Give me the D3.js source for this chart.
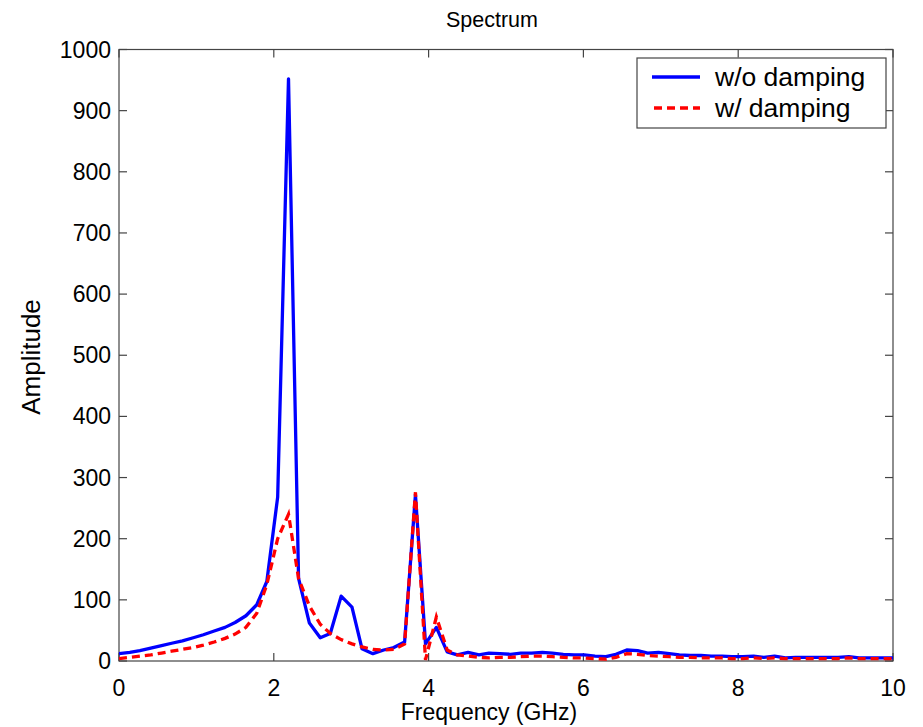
<!DOCTYPE html>
<html>
<head>
<meta charset="utf-8">
<script src="https://cdn.jsdelivr.net/npm/d3@7"></script>
<style>
  body { margin: 0; background: #fff; }
  text { font-family: "Liberation Sans", Arial, sans-serif; fill: #000; }
</style>
</head>
<body>
<div id="chart"></div>
<script>
// 频率 (GHz)
const freq = [0, 0.14, 0.27, 0.41, 0.55, 0.68, 0.82, 0.96, 1.09, 1.23, 1.37, 1.50, 1.64, 1.78, 1.91,
  2.05, 2.19, 2.32, 2.46, 2.60, 2.73, 2.87, 3.01, 3.14, 3.28, 3.42, 3.55, 3.69, 3.83, 3.96,
  4.10, 4.24, 4.37, 4.51, 4.65, 4.78, 4.92, 5.06, 5.19, 5.33, 5.47, 5.60, 5.74, 5.88, 6.01,
  6.15, 6.29, 6.42, 6.56, 6.70, 6.83, 6.97, 7.11, 7.24, 7.38, 7.52, 7.65, 7.79, 7.92, 8.06,
  8.20, 8.33, 8.47, 8.61, 8.74, 8.88, 9.02, 9.15, 9.29, 9.43, 9.56, 9.70, 9.84, 10.0];

// w/o damping
const noDamping = [12, 14, 17, 21, 25, 29, 33, 38, 43, 49, 55, 63, 74, 92, 130,
  268, 952, 135, 62, 38, 45, 106, 88, 20, 12, 18, 22, 31, 272, 28,
  55, 15, 10, 14, 10, 13, 12, 11, 13, 13, 14, 13, 11, 10, 10,
  8, 7, 11, 18, 17, 13, 14, 12, 10, 9, 9, 8, 8, 7, 7,
  8, 6, 8, 5, 6, 6, 6, 6, 6, 7, 5, 5, 5, 5];

// w/ damping
const withDamping = [4, 6, 8, 10, 13, 16, 19, 22, 26, 31, 37, 44, 55, 78, 125,
  200, 240, 135, 90, 60, 45, 35, 28, 23, 19, 18, 19, 28, 276, 2,
  72, 18, 10, 8, 6, 5, 6, 6, 7, 8, 8, 7, 6, 5, 5,
  4, 3, 6, 12, 11, 9, 8, 7, 6, 6, 5, 5, 5, 4, 4,
  5, 4, 5, 4, 4, 4, 4, 4, 4, 5, 4, 4, 4, 4];

const xTicks = [0, 2, 4, 6, 8, 10];
const yTicks = [0, 100, 200, 300, 400, 500, 600, 700, 800, 900, 1000];
const seriesNames = ["w/o damping", "w/ damping"];

const width = 923, height = 727;
const margin = { top: 49.5, right: 30, bottom: 66, left: 119 };

const svg = d3.select("#chart").append("svg")
  .attr("width", width).attr("height", height);

const x = d3.scaleLinear().domain([0, 10]).range([margin.left, width - margin.right]);
const y = d3.scaleLinear().domain([0, 1000]).range([height - margin.bottom, margin.top]);

const axisColor = "#444";
const tickLen = 8;
const fs = 23;

// 坐标框
svg.append("rect")
  .attr("x", x(0)).attr("y", y(1000))
  .attr("width", x(10) - x(0)).attr("height", y(0) - y(1000))
  .attr("fill", "none").attr("stroke", axisColor).attr("stroke-width", 1.2);

// 刻度（向内，四边）
const ticks = svg.append("g").attr("stroke", axisColor).attr("stroke-width", 1.2);
xTicks.forEach(t => {
  ticks.append("line").attr("x1", x(t)).attr("x2", x(t)).attr("y1", y(0)).attr("y2", y(0) - tickLen);
  ticks.append("line").attr("x1", x(t)).attr("x2", x(t)).attr("y1", y(1000)).attr("y2", y(1000) + tickLen);
});
yTicks.forEach(t => {
  ticks.append("line").attr("x1", x(0)).attr("x2", x(0) + tickLen).attr("y1", y(t)).attr("y2", y(t));
  ticks.append("line").attr("x1", x(10)).attr("x2", x(10) - tickLen).attr("y1", y(t)).attr("y2", y(t));
});

// 刻度标签
svg.append("g").selectAll("text").data(xTicks).enter().append("text")
  .attr("x", d => x(d)).attr("y", y(0) + 35)
  .attr("text-anchor", "middle").attr("font-size", fs)
  .text(d => d);
svg.append("g").selectAll("text").data(yTicks).enter().append("text")
  .attr("x", x(0) - 8).attr("y", d => y(d) + 8)
  .attr("text-anchor", "end").attr("font-size", fs)
  .text(d => d);

// 曲线
const line = d3.line()
  .x((d, i) => x(freq[i]))
  .y(d => y(d));

svg.append("path").datum(noDamping)
  .attr("d", line).attr("fill", "none")
  .attr("stroke", "#0000ff").attr("stroke-width", 3.3).attr("stroke-linejoin", "round");
svg.append("path").datum(withDamping)
  .attr("d", line).attr("fill", "none")
  .attr("stroke", "#ff0000").attr("stroke-width", 3.3).attr("stroke-dasharray", "8,5");

// 标题与轴标签
svg.append("text").attr("x", 492).attr("y", 27)
  .attr("text-anchor", "middle").attr("font-size", 21.5).text("Spectrum");
svg.append("text").attr("x", 489).attr("y", 720)
  .attr("text-anchor", "middle").attr("font-size", fs).text("Frequency (GHz)");
svg.append("text")
  .attr("transform", `translate(40, 357) rotate(-90)`)
  .attr("text-anchor", "middle").attr("font-size", 26).text("Amplitude");

// 图例
const lg = svg.append("g");
lg.append("rect").attr("x", 637).attr("y", 58).attr("width", 249).attr("height", 70)
  .attr("fill", "#fff").attr("stroke", axisColor).attr("stroke-width", 1.2);
lg.append("line").attr("x1", 652).attr("x2", 700).attr("y1", 77).attr("y2", 77)
  .attr("stroke", "#0000ff").attr("stroke-width", 3.3);
lg.append("line").attr("x1", 654).attr("x2", 700).attr("y1", 108).attr("y2", 108)
  .attr("stroke", "#ff0000").attr("stroke-width", 3.3).attr("stroke-dasharray", "8,5");
lg.append("text").attr("x", 715).attr("y", 86).attr("font-size", 26.5).text(seriesNames[0]);
lg.append("text").attr("x", 715).attr("y", 117).attr("font-size", 26.5).text(seriesNames[1]);
</script>
</body>
</html>
